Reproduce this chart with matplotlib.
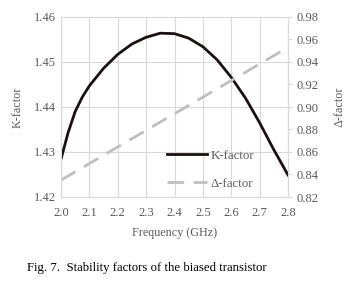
import numpy as np
import matplotlib.pyplot as plt

plt.rcParams['font.family'] = ['Liberation Serif', 'DejaVu Serif']

# datos
freq = [2.0, 2.025, 2.05, 2.075, 2.1, 2.15, 2.2, 2.25, 2.3, 2.35, 2.4, 2.45, 2.5,
        2.55, 2.6, 2.65, 2.7, 2.75, 2.8]
k_factor = [1.4284, 1.4343, 1.4390, 1.4422, 1.4447, 1.4486, 1.4517, 1.4540, 1.4555,
            1.4564, 1.4563, 1.4553, 1.4534, 1.4505, 1.4466, 1.4420, 1.4365,
            1.4305, 1.4249]
delta_freq = [2.0, 2.8]
delta_factor = [0.835, 0.953]

gris = '#595959'
grid_c = '#d9d9d9'

fig = plt.figure(figsize=(3.52, 2.85), dpi=100)
ax = fig.add_axes([61/352, 1 - 197/285, 227/352, 180/285])
ax2 = ax.twinx()

l1, = ax.plot(freq, k_factor, color='#1a1010', lw=2, label='K-factor', zorder=3)
l2, = ax2.plot(delta_freq, delta_factor, color='#bfbfbf', lw=2,
               dashes=(6, 3.5), label='Δ-factor')

ax.set_xlim(2.0, 2.8)
ax.set_ylim(1.42, 1.46)
ax2.set_ylim(0.82, 0.98)
ax.set_xticks(np.arange(2.0, 2.81, 0.1))
ax.set_xticklabels([f'{v:.1f}' for v in np.arange(2.0, 2.81, 0.1)])
ax.set_yticks([1.42, 1.43, 1.44, 1.45, 1.46])
ax.set_yticklabels([f'{v:.2f}' for v in [1.42, 1.43, 1.44, 1.45, 1.46]])
ax2.set_yticks(np.arange(0.82, 0.981, 0.02))
ax2.set_yticklabels([f'{v:.2f}' for v in np.arange(0.82, 0.981, 0.02)])

ax.grid(True, color=grid_c, lw=0.8)
ax.set_axisbelow(True)
for a in (ax, ax2):
    for s in a.spines.values():
        s.set_color(grid_c)
    a.spines['top'].set_visible(False)
ax.tick_params(axis='y', length=0, colors=gris, labelsize=9, pad=4)
ax.tick_params(axis='x', length=0, colors=gris, labelsize=9, pad=7)
ax2.tick_params(axis='y', length=3, colors=gris, labelsize=9, pad=3)
ax2.tick_params(axis='y', color=grid_c)

ax.set_xlabel('Frequency (GHz)', color=gris, fontsize=8.7, labelpad=6)
ax.set_ylabel('K-factor', color=gris, fontsize=8.7, labelpad=7)
ax2.set_ylabel('Δ-factor', color=gris, fontsize=8.7, labelpad=11)

leg = ax.legend([l1, l2], ['K-factor', 'Δ-factor'], loc='lower left',
                bbox_to_anchor=(0.435, 0.0), frameon=False, fontsize=9.3,
                handlelength=3.1, labelspacing=1.25, handletextpad=0.3,
                borderaxespad=0.15, labelcolor=gris)

fig.text(27/352, 1 - 268/285, 'Fig. 7.  Stability factors of the biased transistor',
         fontsize=9.2, color='black', va='center', ha='left')

fig.savefig('out.png', dpi=100)
